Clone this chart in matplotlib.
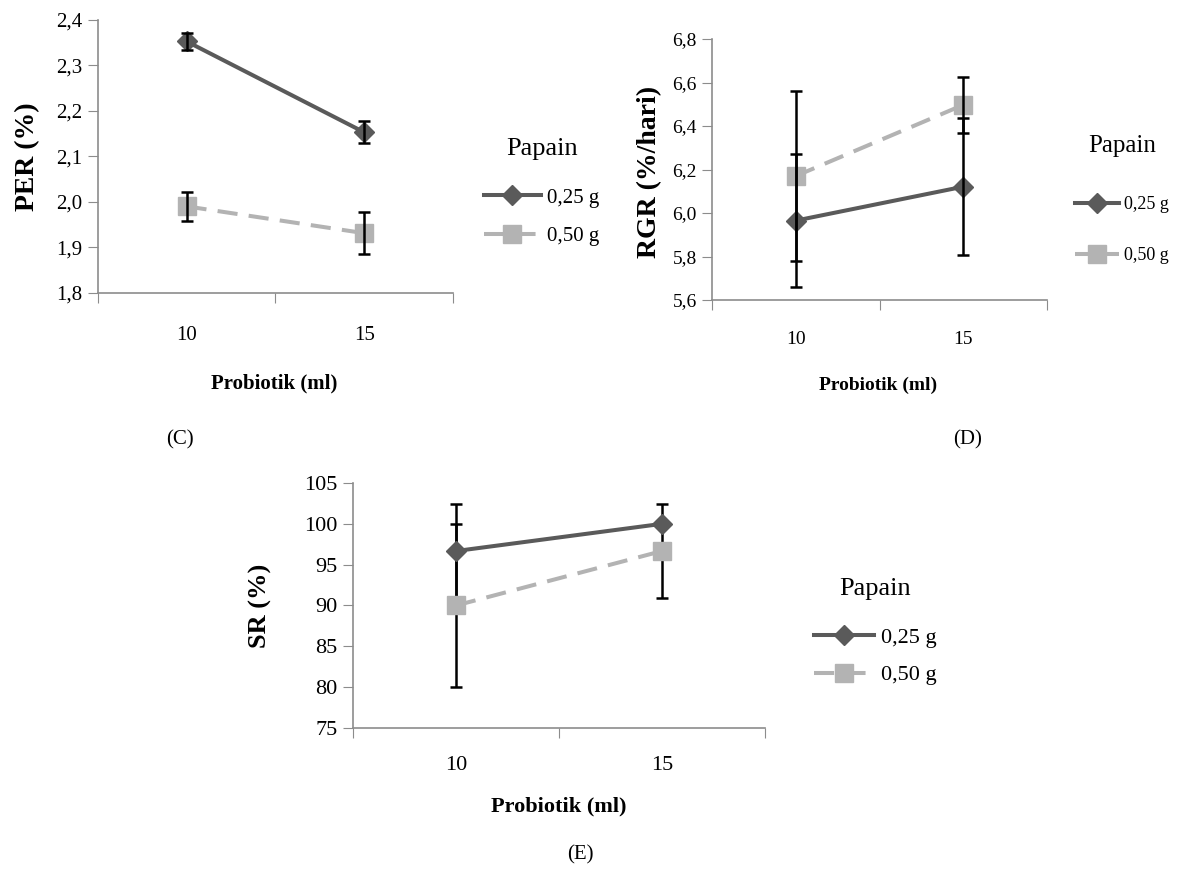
import matplotlib
matplotlib.use("Agg")
import matplotlib.pyplot as plt
from matplotlib.ticker import FixedLocator, FuncFormatter
from matplotlib.lines import Line2D

plt.rcParams['font.family'] = ['Liberation Serif', 'DejaVu Serif']

# data
probiotik = ['10', '15']
papain_labels = ['0,25 g', '0,50 g']

per_025 = [2.353, 2.153]
per_025_err = [0.018, 0.024]
per_050 = [1.990, 1.931]
per_050_err = [0.032, 0.046]

rgr_025 = [5.965, 6.121]
rgr_025_err = [0.307, 0.314]
rgr_050 = [6.170, 6.497]
rgr_050_err = [0.390, 0.128]

sr_025 = [96.67, 100.0]
sr_025_err = [5.77, 0.0]
sr_050 = [90.0, 96.67]
sr_050_err = [10.0, 5.77]

dark = '#5a5a5a'
light = '#b3b3b3'
spine = '#8c8c8c'
dash = (0, (5, 2.8))

fig = plt.figure(figsize=(11.77, 8.75), dpi=100)
W, H = 1177, 875


def fx(px):
    return px / W


def fy(py):
    return 1 - py / H


def panel(box, s1, e1, s2, e2, ylim, yticks, ndec, tick_fs, xpad, bar_top):
    x0, y0, x1, y1 = box
    ax = fig.add_axes([fx(x0), fy(y1), fx(x1 - x0), (y1 - y0) / H])
    xs = list(range(len(probiotik)))
    zb = 5 if bar_top else 1
    for s, e in [(s1, e1), (s2, e2)]:
        ax.errorbar(xs, s, yerr=e, fmt='none', ecolor='black', elinewidth=1.8,
                    capsize=4.5, capthick=1.8, zorder=zb)
    ax.plot(xs, s1, color=dark, lw=2.9, marker='D', ms=10.5, zorder=3)
    ax.plot(xs, s2, color=light, lw=2.9, ls=dash, marker='s', ms=12.5, zorder=3)
    ax.set_xlim(-0.5, len(probiotik) - 0.5)
    ax.set_ylim(*ylim)
    ax.set_yticks(yticks)
    ax.yaxis.set_major_formatter(FuncFormatter(
        lambda v, p: (f'{v:.{ndec}f}').replace('.', ',')))
    ax.xaxis.set_major_locator(FixedLocator([-0.5, 0.5, 1.5]))
    ax.xaxis.set_major_formatter(FuncFormatter(lambda v, p: ''))
    ax.xaxis.set_minor_locator(FixedLocator(xs))
    ax.xaxis.set_minor_formatter(FuncFormatter(lambda v, p: probiotik[int(round(v))]))
    ax.tick_params(axis='x', which='major', length=7, color=spine, direction='out')
    ax.tick_params(axis='x', which='minor', length=0, pad=xpad, labelsize=tick_fs,
                   labelfontfamily='Liberation Serif')
    ax.tick_params(axis='y', length=7, color=spine, direction='out', labelsize=tick_fs,
                   pad=4, labelfontfamily='Liberation Serif')
    for s in ['top', 'right']:
        ax.spines[s].set_visible(False)
    for s in ['left', 'bottom']:
        ax.spines[s].set_color(spine)
        ax.spines[s].set_linewidth(1.2)
    return ax


def legend(ax, x, y, title_fs, fs, spacing, sep, hlen):
    handles = [Line2D([], [], color=dark, lw=2.9, marker='D', ms=10.5),
               Line2D([], [], color=light, lw=2.9, ls=dash, marker='s', ms=12.5)]
    leg = ax.legend(handles, papain_labels, title='Papain', frameon=False,
                    loc='upper left', bbox_to_anchor=(fx(x), fy(y)),
                    bbox_transform=fig.transFigure, fontsize=fs,
                    title_fontsize=title_fs, handlelength=hlen, handletextpad=0.3,
                    labelspacing=spacing, borderaxespad=0)
    leg._legend_box.sep = sep


# (C) PER
axc = panel((97.7, 20, 453, 292.7), per_025, per_025_err, per_050, per_050_err,
            (1.8, 2.4), [1.8, 1.9, 2.0, 2.1, 2.2, 2.3, 2.4], 1, 15, 24, True)
legend(axc, 476, 130, 19, 15, 0.9, 20, 2.7)
fig.text(fx(28), fy(157), 'PER (%)', rotation=90, ha='center', va='center',
         fontsize=20, fontweight='bold')
fig.text(fx(274), fy(383), 'Probiotik (ml)', ha='center', va='center',
         fontsize=15, fontweight='bold')
fig.text(fx(180), fy(440), '(C)', ha='center', va='center', fontsize=15)

# (D) RGR
axd = panel((712, 39, 1047, 300), rgr_025, rgr_025_err, rgr_050, rgr_050_err,
            (5.6, 6.8), [5.6, 5.8, 6.0, 6.2, 6.4, 6.6, 6.8], 1, 14, 22, True)
legend(axd, 1068, 128, 18, 13, 1.9, 28, 2.4)
fig.text(fx(650), fy(172), 'RGR (%/hari)', rotation=90, ha='center', va='center',
         fontsize=20, fontweight='bold')
fig.text(fx(878), fy(385), 'Probiotik (ml)', ha='center', va='center',
         fontsize=14, fontweight='bold')
fig.text(fx(968), fy(440), '(D)', ha='center', va='center', fontsize=15)

# (E) SR
axe = panel((353, 483, 765, 728), sr_025, sr_025_err, sr_050, sr_050_err,
            (75, 105), [75, 80, 85, 90, 95, 100, 105], 0, 16, 20, False)
legend(axe, 805, 569, 19, 16, 0.75, 20, 2.7)
fig.text(fx(260), fy(606), 'SR (%)', rotation=90, ha='center', va='center',
         fontsize=19, fontweight='bold')
fig.text(fx(559), fy(806), 'Probiotik (ml)', ha='center', va='center',
         fontsize=16, fontweight='bold')
fig.text(fx(580), fy(855), '(E)', ha='center', va='center', fontsize=15)

fig.savefig('out.png', dpi=100)
